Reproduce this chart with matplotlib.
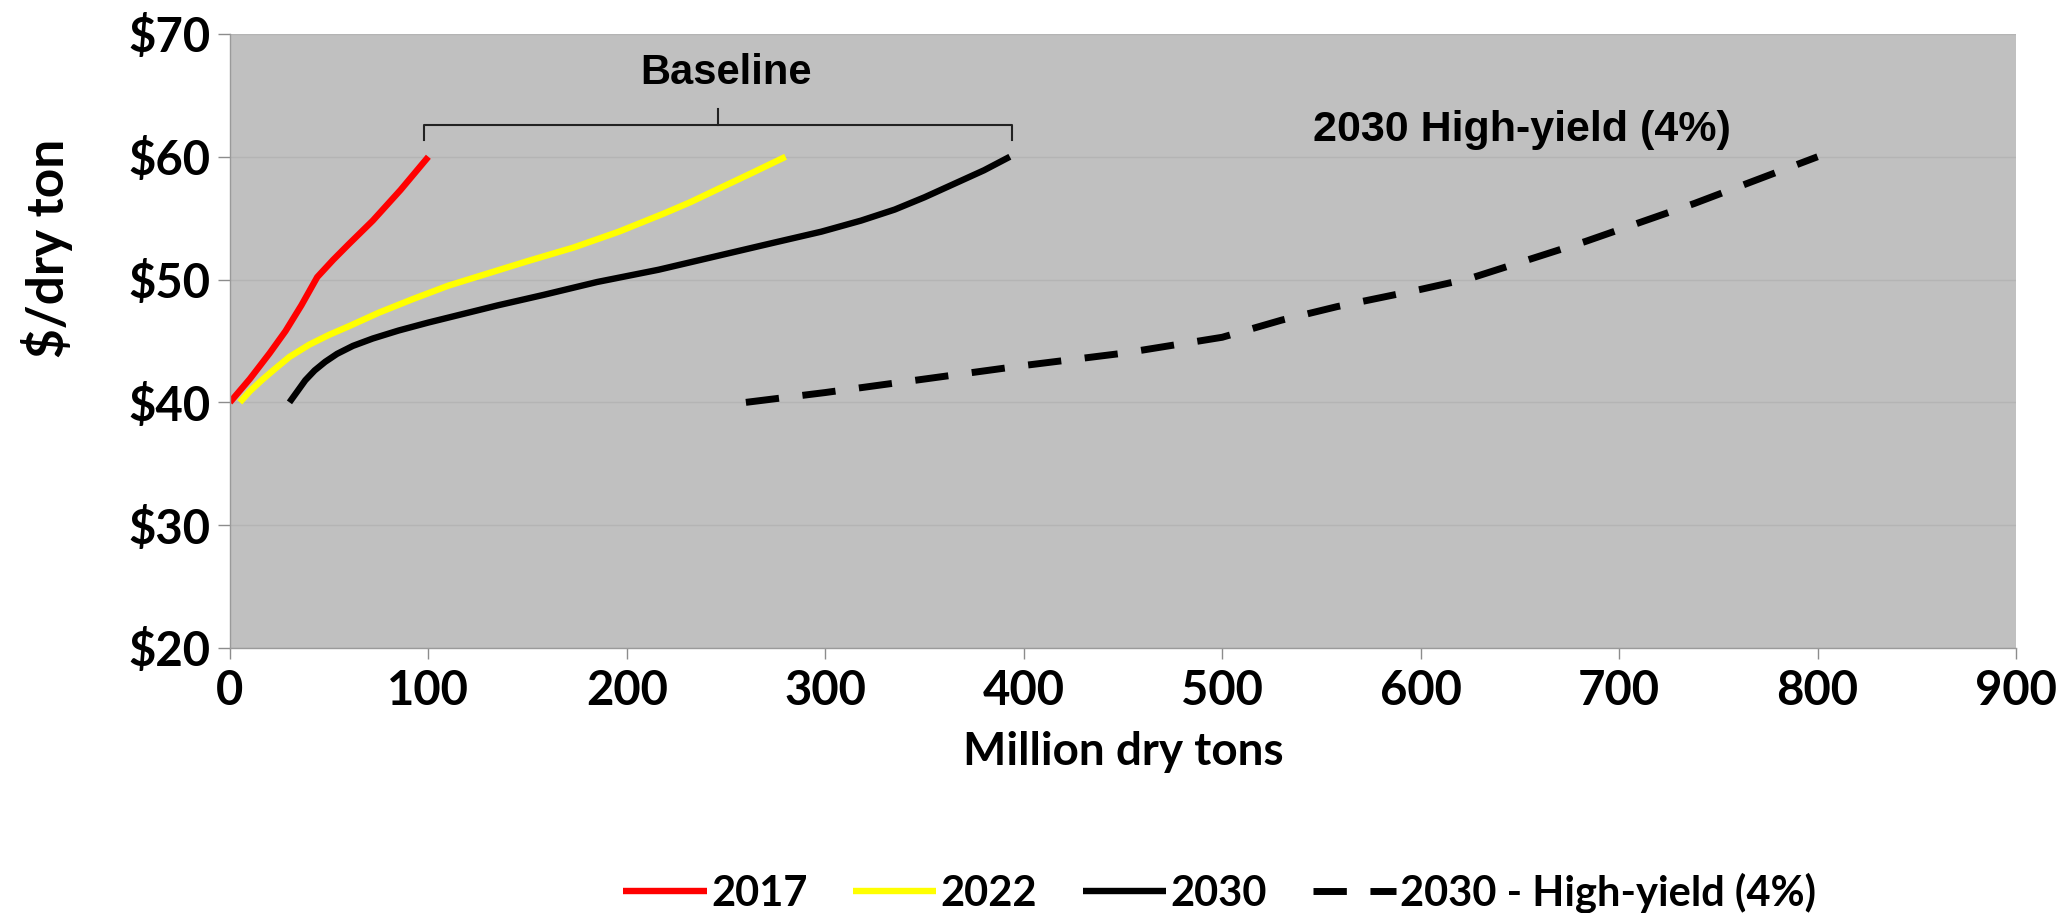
import numpy as np
import matplotlib.pyplot as plt

# supply curves, million dry tons vs $/dry ton
x2017 = [0, 10, 20, 28, 36, 44, 52, 60, 72, 86, 100]
y2017 = [40, 41.9, 44.0, 45.8, 47.9, 50.2, 51.6, 52.9, 54.8, 57.3, 60]

x2022 = [5, 10, 16, 22.5, 30, 40, 50, 60, 75, 92, 110, 130, 150, 173, 196, 219, 232, 245, 262, 280]
y2022 = [40, 40.9, 41.8, 42.7, 43.7, 44.7, 45.5, 46.2, 47.3, 48.4, 49.5, 50.5, 51.5, 52.6, 53.9, 55.4, 56.3, 57.3, 58.6, 60]

x2030 = [30, 34, 38, 42.7, 48, 54, 62, 72, 85, 100, 115, 135, 158, 185, 216, 245, 274, 298,
         318, 335, 350, 365, 380, 393]
y2030 = [40, 40.9, 41.8, 42.6, 43.3, 43.95, 44.6, 45.2, 45.85, 46.5, 47.1, 47.9, 48.75, 49.8,
         50.8, 51.9, 53.0, 53.9, 54.8, 55.7, 56.7, 57.8, 58.9, 60]

x_hy = [260, 300, 350, 400, 450, 500, 530, 558, 600, 625, 683, 738, 800]
y_hy = [40, 40.8, 41.9, 43.0, 44.0, 45.3, 46.7, 47.8, 49.2, 50.1, 53.1, 56.2, 60]

series_labels = ['2017', '2022', '2030', '2030 - High-yield (4%)']
xticks = [0, 100, 200, 300, 400, 500, 600, 700, 800, 900]
yticks = [20, 30, 40, 50, 60, 70]
ytick_labels = ['$20', '$30', '$40', '$50', '$60', '$70']

plt.rcParams['font.family'] = ['Lato', 'DejaVu Sans']
plt.rcParams['font.weight'] = 'bold'
plt.rcParams['axes.labelweight'] = 'bold'

fig = plt.figure(figsize=(20.62, 9.13), dpi=100)
ax = fig.add_axes([0.1115, 0.2903, 0.8662, 0.6725])
ax.set_facecolor('#c0c0c0')

ax.plot(x2017, y2017, color='#ff0000', lw=4.6, solid_joinstyle='round', solid_capstyle='butt', label=series_labels[0])
ax.plot(x2022, y2022, color='#ffff00', lw=4.6, solid_joinstyle='round', solid_capstyle='butt', label=series_labels[1])
ax.plot(x2030, y2030, color='black', lw=4.6, solid_joinstyle='round', solid_capstyle='butt', label=series_labels[2])
ax.plot(x_hy, y_hy, color='black', lw=5, linestyle=(0, (4.8, 3.4)), dash_capstyle='butt', label=series_labels[3])

ax.set_xlim(0, 900)
ax.set_ylim(20, 70)
ax.set_xticks(xticks)
ax.set_yticks(yticks)
ax.set_yticklabels([s.replace('$', r'\$') for s in ytick_labels])
ax.tick_params(axis='y', length=9, width=1, color='#8c8c8c', pad=5, labelsize=34)
ax.tick_params(axis='x', length=8, width=1, color='#8c8c8c', pad=7, labelsize=34)

ax.grid(axis='y', color='#b4b4b4', lw=1)
ax.set_axisbelow(True)
for side in ['top', 'right']:
    ax.spines[side].set_visible(False)
for side in ['left', 'bottom']:
    ax.spines[side].set_color('#9a9a9a')
    ax.spines[side].set_linewidth(1)

ax.set_xlabel('Million dry tons', fontsize=33)
ax.xaxis.set_label_coords(0.5, -0.135)
ax.set_ylabel(r'\$/dry ton', fontsize=37)
ax.yaxis.set_label_coords(-0.088, 0.65)

# bracket over the baseline curves
left, right = x2017[-1] - 2, x2030[-1] + 1
mid = (left + right) / 2
ax.plot([left, left, right, right], [61.4, 62.6, 62.6, 61.4], color='#222222', lw=1.5)
ax.plot([mid, mid], [62.6, 63.9], color='#222222', lw=1.5)
ax.text(mid + 4, 66.8, 'Baseline', family='Liberation Sans', fontsize=30,
        ha='center', va='center')
ax.text(546, 62.2, '2030 High-yield (4%)', family='Liberation Sans', fontsize=31,
        ha='left', va='center')

fig.legend(loc='center', bbox_to_anchor=(0.5916, 0.022), ncol=4, frameon=False,
           fontsize=30, handlelength=2.0, handletextpad=0.1, columnspacing=1.1)

fig.savefig('out.png', dpi=100)
